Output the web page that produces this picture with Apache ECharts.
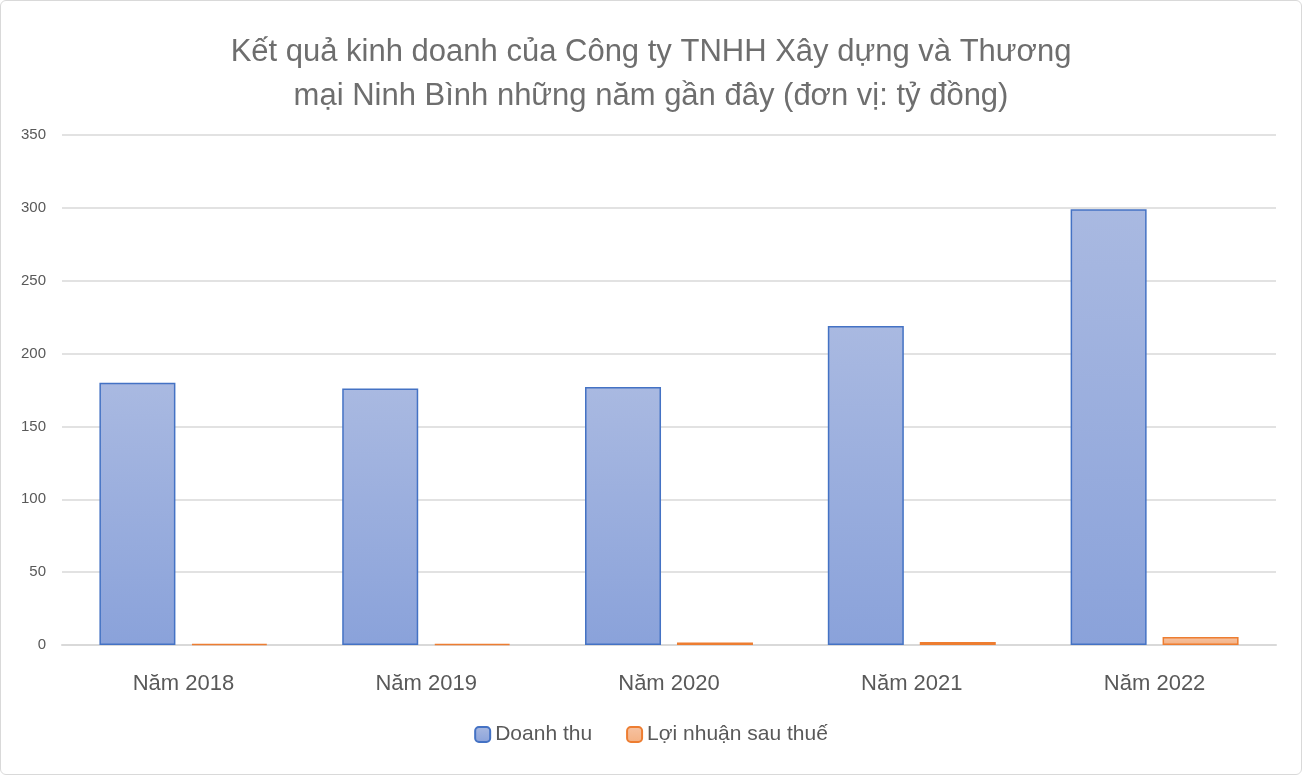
<!DOCTYPE html>
<html><head><meta charset="utf-8">
<script src="https://cdn.jsdelivr.net/npm/echarts@6/dist/echarts.min.js"></script>
<style>html,body{margin:0;padding:0;background:#fff}#c{width:1300px;height:773px;border:1px solid #d9d9d9;border-radius:6px}</style>
</head><body><div id="c"></div>
<script>
const categories = ['Năm 2018','Năm 2019','Năm 2020','Năm 2021','Năm 2022'];
const revenue = [180, 176, 177, 219, 299];
const profit = [0.8, 0.8, 1.8, 2, 5.5];
const yTicks = [0, 50, 100, 150, 200, 250, 300, 350];
const F = 'Liberation Sans';
const grad = (a,b)=>new echarts.graphic.LinearGradient(0,0,0,1,[{offset:0,color:a},{offset:1,color:b}]);
const chart = echarts.init(document.getElementById('c'));
chart.setOption({
  animation:false,
  title:{text:'Kết quả kinh doanh của Công ty TNHH Xây dựng và Thương\nmại Ninh Bình những năm gần đây (đơn vị: tỷ đồng)',left:'center',top:24,
    textStyle:{fontFamily:F,fontSize:31,fontWeight:'normal',color:'#6e6e6e',lineHeight:44}},
  legend:{bottom:24,itemWidth:15,itemHeight:15,itemGap:34,textStyle:{fontFamily:F,fontSize:21,color:'#595959'}},
  grid:{left:61,right:25,top:134,bottom:129},
  xAxis:{type:'category',data:categories,axisTick:{show:false},axisLine:{lineStyle:{color:'#d9d9d9',width:2}},
    axisLabel:{fontFamily:F,fontSize:22,color:'#595959',margin:28}},
  yAxis:{type:'value',min:yTicks[0],max:yTicks[yTicks.length-1],interval:50,
    axisLabel:{fontFamily:F,fontSize:15,color:'#595959',margin:16},
    splitLine:{lineStyle:{color:'#d9d9d9',width:1.5}}},
  series:[
    {name:'Doanh thu',type:'bar',data:revenue,barWidth:76,barGap:'21%',
     itemStyle:{color:grad('#a9b9e1','#8aa2da'),borderColor:'#4472c4',borderWidth:1.5}},
    {name:'Lợi nhuận sau thuế',type:'bar',data:profit,barWidth:76,
     itemStyle:{color:grad('#f6c3a3','#f4b183'),borderColor:'#ed7d31',borderWidth:1.5}}
  ]
});
</script></body></html>
